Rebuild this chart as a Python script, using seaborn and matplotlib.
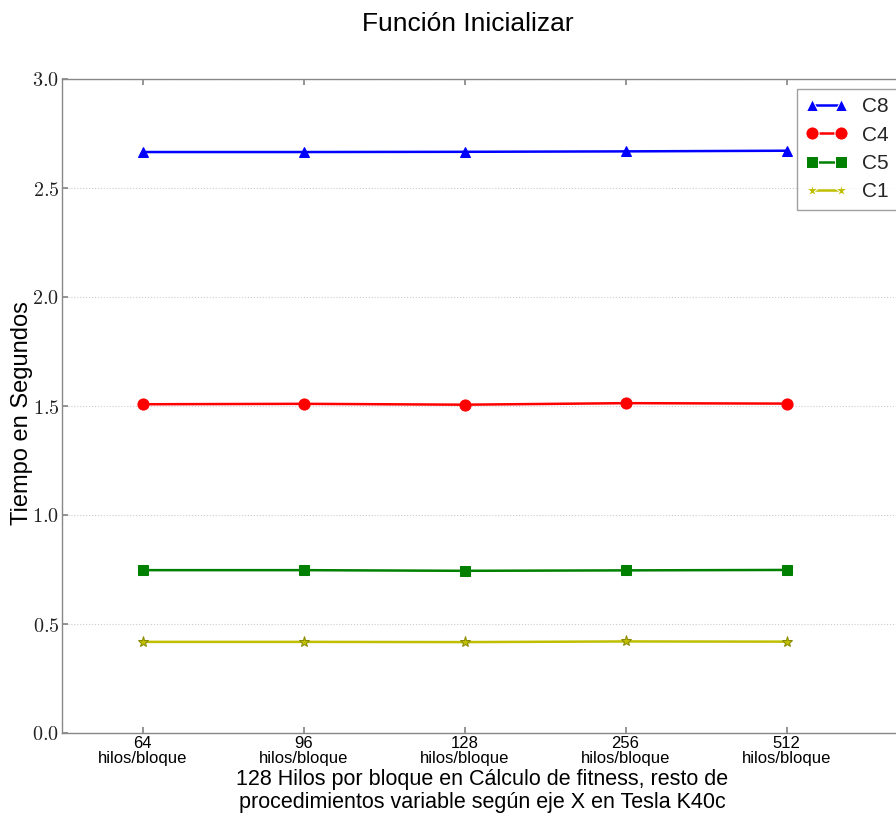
import matplotlib
matplotlib.use("Agg")
import matplotlib.pyplot as plt
import seaborn as sns
import pandas as pd

categorias = ["64\nhilos/bloque", "96\nhilos/bloque", "128\nhilos/bloque",
              "256\nhilos/bloque", "512\nhilos/bloque"]
c8 = [2.665, 2.665, 2.666, 2.668, 2.671]
c4 = [1.508, 1.510, 1.506, 1.513, 1.511]
c5 = [0.747, 0.747, 0.744, 0.746, 0.748]
c1 = [0.418, 0.418, 0.417, 0.420, 0.419]
series = ["C8", "C4", "C5", "C1"]
yticks = [0.0, 0.5, 1.0, 1.5, 2.0, 2.5, 3.0]

sns.set_theme(style="white")
plt.rcParams["font.family"] = ["Liberation Sans", "DejaVu Sans"]
plt.rcParams["mathtext.fontset"] = "cm"

rows = []
for name, vals in zip(series, [c8, c4, c5, c1]):
    for i, v in enumerate(vals):
        rows.append({"pos": i, "t": v, "serie": name})
df = pd.DataFrame(rows)

colors = {"C8": "#0000ff", "C4": "#ff0000", "C5": "#008000", "C1": "#bfbf00"}
markers = {"C8": "^", "C4": "o", "C5": "s", "C1": "*"}
msizes = {"C8": 7, "C4": 8, "C5": 7, "C1": 8}

W, H = 896, 816
fig = plt.figure(figsize=(W / 100, H / 100), dpi=100)
ax_left, ax_right, ax_top, ax_bot = 62, 902, 79, 733
ax = fig.add_axes([ax_left / W, 1 - ax_bot / H, (ax_right - ax_left) / W, (ax_bot - ax_top) / H])

sns.lineplot(data=df, x="pos", y="t", hue="serie", style="serie",
             palette=colors, markers=markers, dashes=False, ax=ax,
             linewidth=1.8, legend=True, hue_order=series, style_order=series)

for line, name in zip(ax.lines, series):
    line.set_markersize(msizes[name])
    line.set_markeredgecolor(colors[name])
    if name == "C1":
        line.set_markeredgecolor("#8a8a00")

ax.set_xlim(-0.5, -0.5 + (ax_right - ax_left) / 161.0)
ax.set_ylim(0, 3.0)
ax.set_xticks(range(len(categorias)))
ax.set_xticklabels(categorias, fontsize=12, color="black", linespacing=1.0)
ax.set_yticks(yticks)
ax.set_yticklabels([r"$%.1f$" % v for v in yticks], fontsize=14.5, color="#222222")
ax.tick_params(axis="both", direction="in", length=4, color="#888888", pad=2,
               top=True, bottom=True, left=True, right=False)
ax.set_xlabel("")
ax.set_ylabel("")
ax.yaxis.grid(True, linestyle=":", color="#cccccc", linewidth=0.8)
ax.xaxis.grid(False)
for s in ["left", "bottom", "top"]:
    ax.spines[s].set_color("#888888")
    ax.spines[s].set_linewidth(1.0)
ax.spines["right"].set_visible(False)

handles, labels = ax.get_legend_handles_labels()
leg = ax.legend(handles, labels, loc="upper left",
                bbox_to_anchor=(797 / W, 1 - 89 / H, 0.13, 0.0),
                bbox_transform=fig.transFigure, mode="expand",
                numpoints=2, fontsize=15, frameon=True, fancybox=False,
                borderpad=0.4, handlelength=2.0, handletextpad=0.7,
                labelspacing=0.45, borderaxespad=0)
leg.get_frame().set_edgecolor("#888888")
leg.get_frame().set_linewidth(1.0)
for h, name in zip(leg.legend_handles, labels):
    h.set_markersize(msizes[name] + 1.5)

fig.text(468 / W, 1 - 24 / H, "Función Inicializar", ha="center", va="center",
         fontsize=19, color="black")
fig.text(22 / W, 1 - 413 / H, "Tiempo en Segundos", ha="center", va="center",
         rotation=90, fontsize=17, color="black")
fig.text(482 / W, 1 - 791 / H,
         "128 Hilos por bloque en Cálculo de fitness, resto de\nprocedimientos variable según eje X en Tesla K40c",
         ha="center", va="center", fontsize=15.5, color="black", linespacing=1.1)

fig.savefig("out.png", dpi=100)
